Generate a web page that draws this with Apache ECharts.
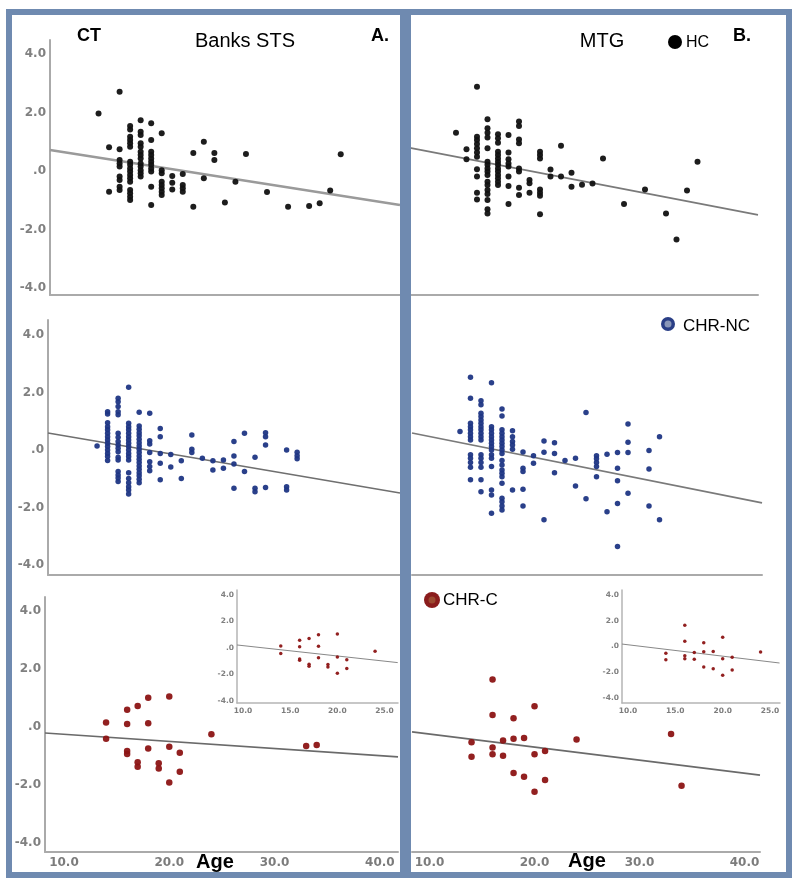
<!DOCTYPE html>
<html><head><meta charset="utf-8">
<script src="https://cdn.jsdelivr.net/npm/echarts@6/dist/echarts.min.js"></script>
<style>html,body{margin:0;padding:0;background:#fff}#c{width:800px;height:879px}</style>
</head><body><div id="c"></div>
<script>
// ---- data: [age, residual z-score] ----
const hcSTS = [[13,1.97],[14,0.81],[14,-0.71],
[15,2.71],[15,0.74],[15,0.38],[15,0.26],[15,0.15],[15,-0.19],[15,-0.31],[15,-0.54],[15,-0.65],
[16,1.54],[16,1.42],[16,1.17],[16,1.06],[16,0.95],[16,0.83],[16,0.32],[16,0.21],[16,0.09],[16,-0.02],[16,-0.14],[16,-0.25],[16,-0.37],[16,-0.65],[16,-0.76],[16,-0.88],[16,-0.99],
[17,1.74],[17,1.34],[17,1.23],[17,0.95],[17,0.83],[17,0.66],[17,0.55],[17,0.43],[17,0.26],[17,0.15],[17,0.03],[17,-0.08],[17,-0.19],
[18,1.63],[18,1.06],[18,0.66],[18,0.55],[18,0.43],[18,0.32],[18,0.21],[18,0.09],[18,-0.02],[18,-0.54],[18,-1.16],
[19,1.29],[19,0.03],[19,-0.08],[19,-0.37],[19,-0.48],[19,-0.59],[19,-0.71],[19,-0.82],
[20,-0.17],[20,-0.40],[20,-0.63],[21,-0.10],[21,-0.48],[21,-0.59],[21,-0.71],
[22,0.62],[22,-1.22],[23,1.00],[23,-0.25],[24,0.62],[24,0.38],
[25,-1.08],[26,-0.37],[27,0.58],[29,-0.72],[31,-1.22],[33,-1.20],[34,-1.10],[35,-0.67],[36,0.57]];

const hcMTG = [[13,1.31],[14,0.74],[14,0.40],
[15,2.88],[15,1.17],[15,1.06],[15,0.92],[15,0.78],[15,0.63],[15,0.49],[15,0.06],[15,-0.19],[15,-0.74],[15,-0.97],
[16,1.77],[16,1.46],[16,1.31],[16,1.15],[16,0.78],[16,0.32],[16,0.21],[16,0.09],[16,-0.02],[16,-0.14],[16,-0.37],[16,-0.48],[16,-0.65],[16,-0.79],[16,-0.99],[16,-1.31],[16,-1.45],
[17,1.26],[17,1.12],[17,0.97],[17,0.66],[17,0.55],[17,0.43],[17,0.32],[17,0.21],[17,0.09],[17,-0.02],[17,-0.14],[17,-0.25],[17,-0.37],[17,-0.48],
[18,1.23],[18,0.63],[18,0.40],[18,0.26],[18,0.15],[18,-0.19],[18,-0.51],[18,-1.13],
[19,1.69],[19,1.54],[19,1.08],[19,0.95],[19,0.09],[19,-0.02],[19,-0.57],[19,-0.82],
[20,-0.31],[20,-0.42],[20,-0.74],
[21,0.66],[21,0.55],[21,0.43],[21,-0.63],[21,-0.74],[21,-0.85],[21,-1.48],
[22,0.05],[22,-0.19],[23,0.86],[23,-0.19],[24,-0.06],[24,-0.54],
[25,-0.47],[26,-0.43],[27,0.43],[29,-1.13],[31,-0.63],[33,-1.45],[34,-2.34],[35,-0.67],[36,0.32]];

const ncSTS = [[13,0.14],
[14,1.33],[14,1.25],[14,0.95],[14,0.81],[14,0.70],[14,0.58],[14,0.46],[14,0.35],[14,0.23],[14,0.12],[14,0.0],[14,-0.12],[14,-0.23],[14,-0.37],
[15,1.80],[15,1.68],[15,1.51],[15,1.33],[15,1.22],[15,0.58],[15,0.44],[15,0.29],[15,0.17],[15,0.06],[15,-0.06],[15,-0.25],[15,-0.35],[15,-0.75],[15,-0.87],[15,-0.98],[15,-1.10],
[16,2.18],[16,0.93],[16,0.81],[16,0.70],[16,0.58],[16,0.46],[16,0.35],[16,0.23],[16,0.12],[16,0.0],[16,-0.12],[16,-0.23],[16,-0.35],[16,-0.79],[16,-0.99],[16,-1.14],[16,-1.28],[16,-1.39],[16,-1.53],
[17,1.31],[17,0.83],[17,0.72],[17,0.60],[17,0.49],[17,0.37],[17,0.25],[17,0.14],[17,0.02],[17,-0.09],[17,-0.21],[17,-0.32],[17,-0.44],[17,-0.56],[17,-0.67],[17,-0.79],[17,-0.90],[17,-1.02],[17,-1.14],
[18,1.28],[18,0.32],[18,0.21],[18,-0.09],[18,-0.41],[18,-0.58],[18,-0.72],
[19,0.75],[19,0.46],[19,-0.12],[19,-0.46],[19,-1.04],
[20,-0.16],[20,-0.59],[21,-0.38],[21,-0.99],[22,0.52],[22,0.02],[22,-0.09],[23,-0.29],
[24,-0.38],[24,-0.70],[25,-0.35],[25,-0.64],[26,0.29],[26,-0.21],[26,-0.49],[26,-1.33],
[27,0.58],[27,-0.75],[28,-0.25],[28,-1.33],[28,-1.45],[29,0.60],[29,0.46],[29,0.17],[29,-1.31],
[31,0.0],[31,-1.28],[31,-1.39],[32,-0.08],[32,-0.20],[32,-0.31]];

const ncMTG = [[13,0.64],
[14,2.53],[14,1.80],[14,0.93],[14,0.81],[14,0.70],[14,0.58],[14,0.46],[14,0.35],[14,-0.17],[14,-0.29],[14,-0.44],[14,-0.60],[14,-1.04],
[15,1.71],[15,1.57],[15,1.28],[15,1.16],[15,1.04],[15,0.93],[15,0.81],[15,0.70],[15,0.58],[15,0.46],[15,0.35],[15,-0.17],[15,-0.29],[15,-0.44],[15,-0.60],[15,-1.04],[15,-1.45],
[16,2.34],[16,0.81],[16,0.70],[16,0.58],[16,0.46],[16,0.35],[16,0.23],[16,0.12],[16,0.0],[16,-0.17],[16,-0.29],[16,-0.58],[16,-1.39],[16,-1.57],[16,-2.20],
[17,1.42],[17,1.18],[17,0.70],[17,0.58],[17,0.46],[17,0.35],[17,0.23],[17,0.12],[17,0.0],[17,-0.12],[17,-0.37],[17,-0.52],[17,-0.70],[17,-0.81],[17,-0.93],[17,-1.16],[17,-1.68],[17,-1.80],[17,-1.95],[17,-2.09],
[18,0.67],[18,0.46],[18,0.29],[18,0.17],[18,0.02],[18,-1.39],
[19,-0.07],[19,-0.64],[19,-0.75],[19,-1.37],[19,-1.95],
[20,-0.20],[20,-0.46],[21,0.31],[21,-0.08],[21,-2.43],[22,0.25],[22,-0.12],[22,-0.79],[23,-0.37],
[24,-0.29],[24,-1.25],[25,1.30],[25,-1.70],[26,-0.20],[26,-0.31],[26,-0.44],[26,-0.58],[26,-0.93],
[27,-0.15],[27,-2.15],[28,-0.09],[28,-0.64],[28,-1.07],[28,-1.86],[28,-3.36],
[29,0.90],[29,0.27],[29,-0.09],[29,-1.51],[31,-0.02],[31,-0.66],[31,-1.95],[32,0.46],[32,-2.43]];

const cSTS = [[14,0.15],[14,-0.41],[16,0.59],[16,0.10],[16,-0.83],[16,-0.93],
[17,0.72],[17,-1.22],[17,-1.37],[18,1.01],[18,0.13],[18,-0.74],[19,-1.25],[19,-1.43],
[20,1.05],[20,-0.68],[20,-1.91],[21,-0.89],[21,-1.54],[24,-0.25],[33,-0.66],[34,-0.62]];

const cMTG = [[14,-0.53],[14,-1.03],[16,1.64],[16,0.41],[16,-0.71],[16,-0.94],
[17,-0.47],[17,-0.99],[18,0.30],[18,-0.41],[18,-1.59],[19,-0.38],[19,-1.72],
[20,0.71],[20,-0.94],[20,-2.23],[21,-0.83],[21,-1.83],[24,-0.43],[33,-0.24],[34,-2.03]];

// fit lines (end points)
const fitHcSTS = [[8.39,0.72],[41.63,-1.16]];
const fitHcMTG = [[8.62,0.79],[41.76,-1.50]];
const fitNcSTS = [[8.34,0.59],[41.77,-1.50]];
const fitNcMTG = [[8.43,0.59],[41.76,-1.84]];
const fitCSTS  = [[8.20,-0.21],[41.72,-1.03]];
const fitCMTG  = [[8.33,-0.17],[41.47,-1.66]];
const fitCSTSin = [[9.36,0.23],[26.4,-1.10]];
const fitCMTGin = [[9.37,0.19],[26.0,-1.28]];

const yTicks = [4, 2, 0, -2, -4];
const xTicksMain = [10, 20, 30, 40];
const xTicksInset = [10, 15, 20, 25];

// ---- layout ----
const grids = [
  {left:50, top:40, width:350, height:255},
  {left:410, top:40, width:348, height:255},
  {left:48, top:320, width:352, height:255},
  {left:412, top:320, width:350, height:255},
  {left:45, top:597, width:353, height:255},
  {left:412, top:597, width:348, height:255},
  {left:237, top:590, width:161, height:113},
  {left:622, top:590, width:158, height:113}
];
const xr = [[8.39,41.63],[8.62,41.76],[8.34,41.77],[8.43,41.76],[8.20,41.72],[8.33,41.47],[9.36,26.43],[9.37,26.05]];
const yr = [[-4.24,4.48],[-4.24,4.48],[-4.35,4.52],[-4.35,4.52],[-4.31,4.48],[-4.31,4.48],[-4.15,4.38],[-4.38,4.38]];

const yFmt = v => v === 0 ? '.0' : v.toFixed(1);
const lblFont = 'DejaVu Sans';

const xAxis = xr.map((r, i) => {
  const bottomMain = (i === 4 || i === 5);
  const inset = i >= 6;
  return {
    type:'value', gridIndex:i, min:r[0], max:r[1],
    splitLine:{show:false}, axisTick:{show:false},
    axisLine:{show:true, onZero:false, lineStyle:{color: inset ? '#b5b5b5' : '#aaaaaa', width: inset ? 1.5 : 2}},
    axisLabel: (bottomMain || inset) ? {
      show:true, customValues: inset ? xTicksInset : xTicksMain,
      formatter: v => v.toFixed(1), color:'#7c7c7c', fontFamily:lblFont, fontWeight:'bold',
      fontSize: inset ? 7.5 : 12, margin: inset ? 4 : 5
    } : {show:false}
  };
});
const yAxis = yr.map((r, i) => {
  const left = (i === 0 || i === 2 || i === 4 || i >= 6);
  const inset = i >= 6;
  return {
    type:'value', gridIndex:i, min:r[0], max:r[1],
    splitLine:{show:false}, axisTick:{show:false},
    axisLine:{show:left, onZero:false, lineStyle:{color: inset ? '#b5b5b5' : '#aaaaaa', width: inset ? 1.5 : 2}},
    axisLabel: left ? {
      show:true, customValues: yTicks, formatter: yFmt, color:'#808080',
      fontFamily:lblFont, fontWeight:'bold', fontSize: inset ? 7.5 : 12, margin: inset ? 3 : 4
    } : {show:false}
  };
});

const BLACK = '#111111', NAVY = '#1f3684', RED = '#8c1414';
function sc(gi, data, color, size) {
  return {type:'scatter', xAxisIndex:gi, yAxisIndex:gi, data, symbolSize:size,
    itemStyle:{color, opacity:0.95}, silent:true, z:3};
}
function ln(gi, data, color, w) {
  return {type:'line', xAxisIndex:gi, yAxisIndex:gi, data, symbol:'none',
    lineStyle:{color, width:w}, silent:true, z:2};
}
const upTo25 = d => d.filter(p => p[0] <= 25);

const series = [
  ln(0, fitHcSTS, '#9a9a9a', 2.5), sc(0, hcSTS, BLACK, 6),
  ln(1, fitHcMTG, '#7a7a7a', 1.6), sc(1, hcMTG, BLACK, 6),
  ln(2, fitNcSTS, '#6f6f6f', 1.6), sc(2, ncSTS, NAVY, 5.5),
  ln(3, fitNcMTG, '#7a7a7a', 1.6), sc(3, ncMTG, NAVY, 5.5),
  ln(4, fitCSTS, '#6a6a6a', 1.6), sc(4, cSTS, RED, 6.5),
  ln(5, fitCMTG, '#6a6a6a', 1.6), sc(5, cMTG, RED, 6.5),
  ln(6, fitCSTSin, '#888888', 1), sc(6, upTo25(cSTS), RED, 3.5),
  ln(7, fitCMTGin, '#888888', 1), sc(7, upTo25(cMTG), RED, 3.5)
];

const SANS = 'Liberation Sans, Arial, sans-serif';
function txt(x, y, s, size, bold, align) {
  return {type:'text', z:100, style:{text:s, x, y, fill:'#000',
    font:(bold ? 'bold ' : '') + size + 'px ' + SANS,
    align: align || 'center', verticalAlign:'middle',
    textAlign: align || 'center', textVerticalAlign:'middle'}};
}
const FRAME = '#6f8ab0';
const graphic = [
  {type:'rect', z:100, shape:{x:9, y:12, width:394, height:863}, style:{fill:'none', stroke:FRAME, lineWidth:6}},
  {type:'rect', z:100, shape:{x:408, y:12, width:381, height:863}, style:{fill:'none', stroke:FRAME, lineWidth:6}},
  txt(89, 36, 'CT', 18, true),
  txt(245, 41, 'Banks STS', 20, false),
  txt(380, 36, 'A.', 18, true),
  txt(602, 41, 'MTG', 20, false),
  {type:'circle', z:100, shape:{cx:675, cy:42, r:7}, style:{fill:'#000'}},
  txt(686, 43, 'HC', 16, false, 'left'),
  txt(742, 36, 'B.', 18, true),
  {type:'circle', z:100, shape:{cx:668, cy:324, r:7}, style:{fill:'#2a3f86'}},
  {type:'circle', z:100, shape:{cx:668, cy:324, r:3.5}, style:{fill:'#8a97b8'}},
  txt(683, 326, 'CHR-NC', 17, false, 'left'),
  {type:'circle', z:100, shape:{cx:432, cy:600, r:8}, style:{fill:'#8a1c1c'}},
  {type:'circle', z:100, shape:{cx:432, cy:600, r:3.5}, style:{fill:'#9c4a30'}},
  txt(443, 600, 'CHR-C', 17, false, 'left'),
  txt(215, 862, 'Age', 20, true),
  txt(587, 861, 'Age', 20, true)
];

const chart = echarts.init(document.getElementById('c'), null, {renderer:'canvas'});
chart.setOption({
  animation:false, backgroundColor:'#ffffff',
  grid: grids, xAxis, yAxis, series,
  graphic:{elements: graphic}
});
</script></body></html>
